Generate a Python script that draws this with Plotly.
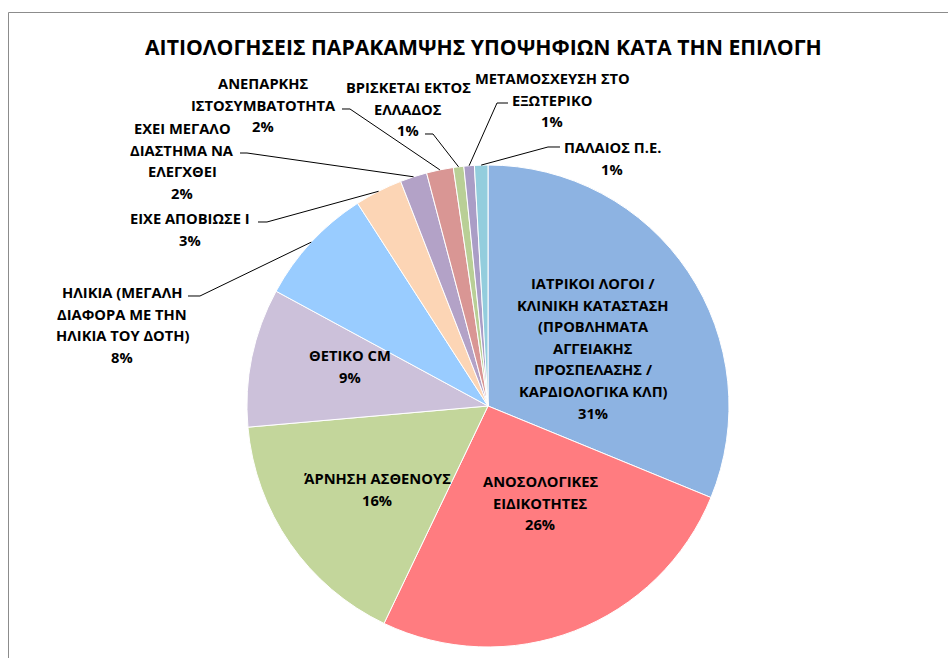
import math
import plotly.graph_objects as go

# ---- data ----
categories = [
    "ΙΑΤΡΙΚΟΙ ΛΟΓΟΙ / ΚΛΙΝΙΚΗ ΚΑΤΑΣΤΑΣΗ (ΠΡΟΒΛΗΜΑΤΑ ΑΓΓΕΙΑΚΗΣ ΠΡΟΣΠΕΛΑΣΗΣ / ΚΑΡΔΙΟΛΟΓΙΚΑ ΚΛΠ)",
    "ΑΝΟΣΟΛΟΓΙΚΕΣ ΕΙΔΙΚΟΤΗΤΕΣ",
    "ΆΡΝΗΣΗ ΑΣΘΕΝΟΥΣ",
    "ΘΕΤΙΚΟ CM",
    "ΗΛΙΚΙΑ (ΜΕΓΑΛΗ ΔΙΑΦΟΡΑ ΜΕ ΤΗΝ ΗΛΙΚΙΑ ΤΟΥ ΔΟΤΗ)",
    "ΕΙΧΕ ΑΠΟΒΙΩΣΕ Ι",
    "ΕΧΕΙ ΜΕΓΑΛΟ ΔΙΑΣΤΗΜΑ ΝΑ ΕΛΕΓΧΘΕΙ",
    "ΑΝΕΠΑΡΚΗΣ ΙΣΤΟΣΥΜΒΑΤΟΤΗΤΑ",
    "ΒΡΙΣΚΕΤΑΙ ΕΚΤΟΣ ΕΛΛΑΔΟΣ",
    "ΜΕΤΑΜΟΣΧΕΥΣΗ ΣΤΟ ΕΞΩΤΕΡΙΚΟ",
    "ΠΑΛΑΙΟΣ Π.Ε.",
]
values = [31.2, 25.9, 16.5, 9.3, 8.0, 3.2, 1.8, 1.8, 0.7, 0.7, 0.9]
pct_labels = ["31%", "26%", "16%", "9%", "8%", "3%", "2%", "2%", "1%", "1%", "1%"]
label_lines = [
    ["ΙΑΤΡΙΚΟΙ ΛΟΓΟΙ /", "ΚΛΙΝΙΚΗ ΚΑΤΑΣΤΑΣΗ", "(ΠΡΟΒΛΗΜΑΤΑ", "ΑΓΓΕΙΑΚΗΣ", "ΠΡΟΣΠΕΛΑΣΗΣ /", "ΚΑΡΔΙΟΛΟΓΙΚΑ ΚΛΠ)"],
    ["ΑΝΟΣΟΛΟΓΙΚΕΣ", "ΕΙΔΙΚΟΤΗΤΕΣ"],
    ["ΆΡΝΗΣΗ ΑΣΘΕΝΟΥΣ"],
    ["ΘΕΤΙΚΟ CM"],
    ["ΗΛΙΚΙΑ (ΜΕΓΑΛΗ", "ΔΙΑΦΟΡΑ ΜΕ ΤΗΝ", "ΗΛΙΚΙΑ ΤΟΥ ΔΟΤΗ)"],
    ["ΕΙΧΕ ΑΠΟΒΙΩΣΕ Ι"],
    ["ΕΧΕΙ ΜΕΓΑΛΟ", "ΔΙΑΣΤΗΜΑ ΝΑ", "ΕΛΕΓΧΘΕΙ"],
    ["ΑΝΕΠΑΡΚΗΣ", "ΙΣΤΟΣΥΜΒΑΤΟΤΗΤΑ"],
    ["ΒΡΙΣΚΕΤΑΙ ΕΚΤΟΣ", "ΕΛΛΑΔΟΣ"],
    ["ΜΕΤΑΜΟΣΧΕΥΣΗ ΣΤΟ", "ΕΞΩΤΕΡΙΚΟ"],
    ["ΠΑΛΑΙΟΣ Π.Ε."],
]
title_text = "ΑΙΤΙΟΛΟΓΗΣΕΙΣ ΠΑΡΑΚΑΜΨΗΣ ΥΠΟΨΗΦΙΩΝ ΚΑΤΑ ΤΗΝ ΕΠΙΛΟΓΗ"

# ---- styles / layout ----
colors = ["#8DB3E2", "#FF7C80", "#C3D69B", "#CCC1DA", "#99CCFF", "#FCD5B5",
          "#B3A2C7", "#D99694", "#B9CF96", "#AA9DC6", "#93CDDD"]
W, H = 948, 658
CX, CY, R = 488, 406, 241
FONT = "Open Sans"
FS = 14.7
LINE_H = 21.6

# label placement: (center x, first line y) in px
label_pos = [(593, 283), (540, 481), (377, 478), (350, 355), (122, 292), (190, 218),
             (182, 128), (263, 83), (408, 87), (552, 78), (612, 147)]
# leader: (label end point, knee point) in px; None = inside label
leaders = [None, None, None, None,
           ((188, 296), (200, 296)),
           ((258, 222), (267, 222)),
           ((240, 153), (247, 153)),
           ((342, 109), (350, 109)),
           ((425, 134), (433, 134)),
           ((508, 103), (497, 103)),
           ((560, 147), (548, 147))]


def px(x):
    return x / W


def py(y):
    return 1 - y / H


fig = go.Figure()
fig.add_trace(go.Pie(
    labels=categories, values=values, sort=False, direction="clockwise", rotation=0,
    marker=dict(colors=colors, line=dict(color="white", width=1)),
    textinfo="none", hoverinfo="label+percent", showlegend=False,
    domain=dict(x=[px(CX - R), px(CX + R)], y=[py(CY + R), py(CY - R)]),
))

annotations = []
for lines, pct, (x, y) in zip(label_lines, pct_labels, label_pos):
    for i, t in enumerate(lines + [pct]):
        annotations.append(dict(
            x=px(x), y=py(y + i * LINE_H), xref="paper", yref="paper",
            text="<b>%s</b>" % t, showarrow=False, xanchor="center", yanchor="middle",
            font=dict(family=FONT, size=FS, color="black")))

annotations.append(dict(
    x=px(483), y=py(47), xref="paper", yref="paper", text="<b>%s</b>" % title_text,
    showarrow=False, xanchor="center", yanchor="middle",
    font=dict(family=FONT, size=21.2, color="black")))

shapes = []
# leader lines: end on the pie edge at each slice's mid angle (from data)
total = sum(values)
cum = 0.0
for v, ld in zip(values, leaders):
    mid = (cum + v / 2) / total * 360.0
    cum += v
    if ld is None:
        continue
    th = math.radians(mid)
    ex, ey = CX + R * math.sin(th), CY - R * math.cos(th)
    (ax, ay), (kx, ky) = ld
    path = "M %f %f L %f %f L %f %f" % (px(ax), py(ay), px(kx), py(ky), px(ex), py(ey))
    shapes.append(dict(type="path", path=path, xref="paper", yref="paper",
                       line=dict(color="black", width=1), layer="above"))

# chart area border
shapes.append(dict(type="rect", xref="paper", yref="paper",
                   x0=px(8.5), x1=px(960), y0=py(670), y1=py(12.5),
                   line=dict(color="#8C8C8C", width=1), layer="below"))

fig.update_layout(
    width=W, height=H, margin=dict(l=0, r=0, t=0, b=0),
    paper_bgcolor="white", plot_bgcolor="white",
    annotations=annotations, shapes=shapes,
)
fig.write_html("out.html", config={"displayModeBar": False},
               post_script="document.body.style.margin='0';document.body.style.overflow='hidden';")
